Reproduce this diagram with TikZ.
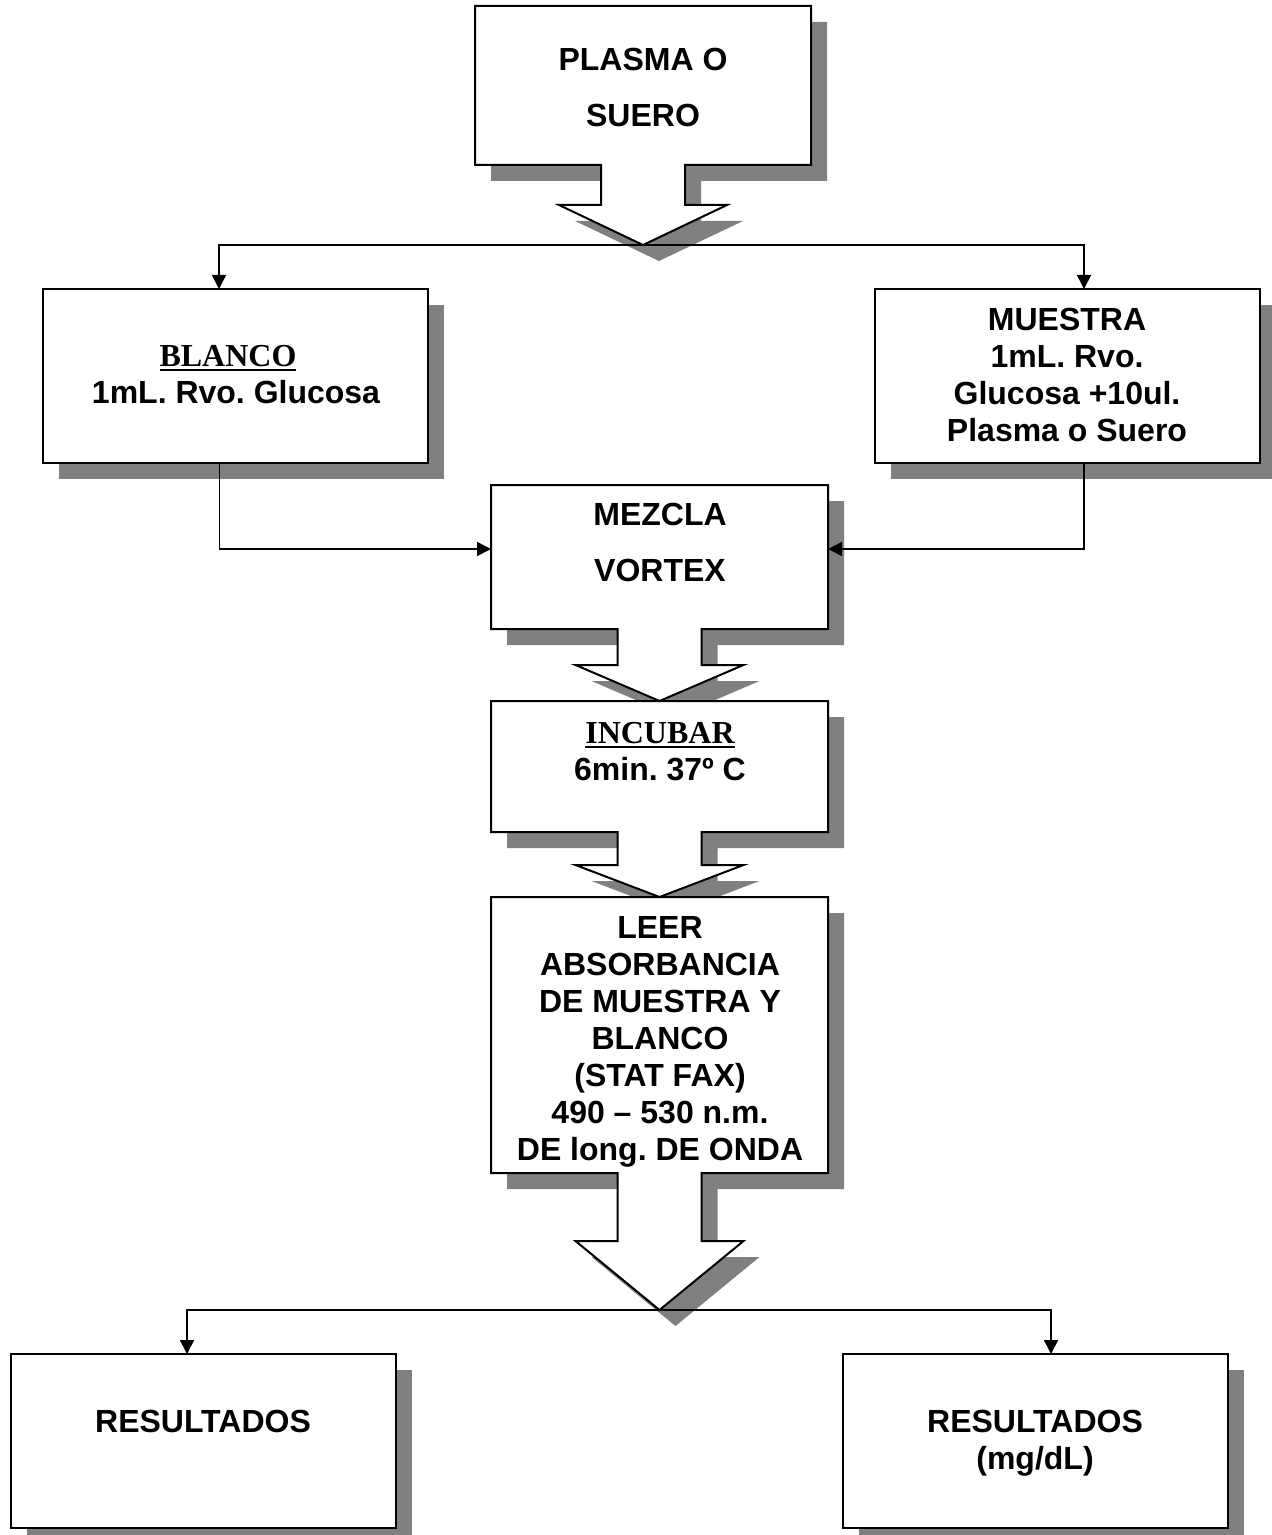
\documentclass[tikz,border=0pt]{standalone}
\usepackage{fontspec}
\setmainfont{Liberation Sans}
\newfontfamily\timesf{Liberation Serif}
\usetikzlibrary{arrows.meta,calc}
\newcommand\lnst{\rule[-4.5pt]{0pt}{18.5pt}}
\newcommand\myul[1]{\setbox0\hbox{#1}\rlap{\rule[-2.6pt]{\wd0}{1.3pt}}\box0}
\newcommand\callout[3]{%
  \fill[shade] (#1.north west) -- (#1.north east) -- (#1.south east)
    -- ($(#1.south)+(42,0)$) -- ($(#1.south)+(42,#2)$) -- ($(#1.south)+(84,#2)$)
    -- ($(#1.south)+(0,#2+#3)$) -- ($(#1.south)+(-84,#2)$) -- ($(#1.south)+(-42,#2)$)
    -- ($(#1.south)+(-42,0)$) -- (#1.south west) -- cycle;
  \draw[outline] (#1.north west) -- (#1.north east) -- (#1.south east)
    -- ($(#1.south)+(42,0)$) -- ($(#1.south)+(42,#2)$) -- ($(#1.south)+(84,#2)$)
    -- ($(#1.south)+(0,#2+#3)$) -- ($(#1.south)+(-84,#2)$) -- ($(#1.south)+(-42,#2)$)
    -- ($(#1.south)+(-42,0)$) -- (#1.south west) -- cycle;}
\newcommand\plainbox[1]{%
  \fill[shade] (#1.north west) rectangle (#1.south east);
  \draw[outline] (#1.north west) rectangle (#1.south east);}
\begin{document}
\frenchspacing
\begin{tikzpicture}[x=0.5pt,y=-0.5pt,
  boxarea/.style={rectangle,inner sep=0pt,outer sep=0pt},
  shade/.style={fill=black!50,transform canvas={xshift=8pt,yshift=-8pt}},
  outline/.style={draw=black,fill=white,line width=1pt,line join=miter},
  conn/.style={draw=black,line width=0.8pt,-{Triangle[length=7pt,width=7pt]}},
  txt/.style={align=center,inner sep=0pt,font=\fontsize{16pt}{18.5pt}\selectfont\bfseries\frenchspacing}]
\useasboundingbox (0,0) rectangle (1271,1535);
% box areas
\node[boxarea,minimum width=168pt,minimum height=79.5pt] (p) at (643,85.5) {};
\node[boxarea,minimum width=192.5pt,minimum height=87pt] (bl) at (235.5,376) {};
\node[boxarea,minimum width=192.5pt,minimum height=87pt] (mu) at (1067.5,376) {};
\node[boxarea,minimum width=168.5pt,minimum height=72pt] (mz) at (659.5,557) {};
\node[boxarea,minimum width=168.5pt,minimum height=65.5pt] (inc) at (659.5,766.5) {};
\node[boxarea,minimum width=168.5pt,minimum height=138pt] (lee) at (659.5,1035) {};
\node[boxarea,minimum width=192.5pt,minimum height=87pt] (r1) at (203.5,1441) {};
\node[boxarea,minimum width=192.5pt,minimum height=87pt] (r2) at (1035.5,1441) {};
% shapes
\callout{p}{40}{40}
\plainbox{bl}
\plainbox{mu}
\callout{mz}{36}{36}
\callout{inc}{33}{32}
\callout{lee}{68}{69}
\plainbox{r1}
\plainbox{r2}
\coordinate (t1) at ($(p.south)+(0,80)$);
\coordinate (t4) at ($(lee.south)+(0,137)$);
% connectors
\draw[conn] (t1) -| ([xshift=-8.25pt]bl.north);
\draw[conn] (t1) -| ([xshift=8.25pt]mu.north);
\draw[conn] ([xshift=-8pt]bl.south) |- ([yshift=4pt]mz.west);
\draw[conn] ([xshift=8.25pt]mu.south) |- ([yshift=4pt]mz.east);
\draw[conn] (t4) -| ([xshift=-8.25pt]r1.north);
\draw[conn] (t4) -| ([xshift=7.75pt]r2.north);
% texts
\node[txt] (tp) at (643,89) {\lnst PLASMA O\\[9.5pt]\lnst SUERO};
\node[txt] (tbl) at (236,375) {\lnst{\timesf\myul{BLANCO}}\kern8pt\relax\\\lnst 1mL. Rvo. Glucosa};
\node[txt] (tmu) at (1067,376) {\lnst MUESTRA\\\lnst 1mL. Rvo.\\\lnst Glucosa +10ul.\\\lnst Plasma o Suero};
\node[txt] (tmz) at (660,544) {\lnst MEZCLA\\[9.5pt]\lnst VORTEX};
\node[txt] (tinc) at (660,752) {\lnst{\timesf\myul{INCUBAR}}\\\lnst 6min. 37º C};
\node[txt] (tlee) at (660,1039.5) {\lnst LEER\\\lnst ABSORBANCIA\\\lnst DE MUESTRA Y\\\lnst BLANCO\\\lnst (STAT FAX)\\\lnst 490 – 530 n.m.\\\lnst DE long. DE ONDA};
\node[txt] (tr1) at (203,1423) {\lnst RESULTADOS};
\node[txt] (tr2) at (1035,1441) {\lnst RESULTADOS\\\lnst (mg/dL)};
\end{tikzpicture}
\end{document}
